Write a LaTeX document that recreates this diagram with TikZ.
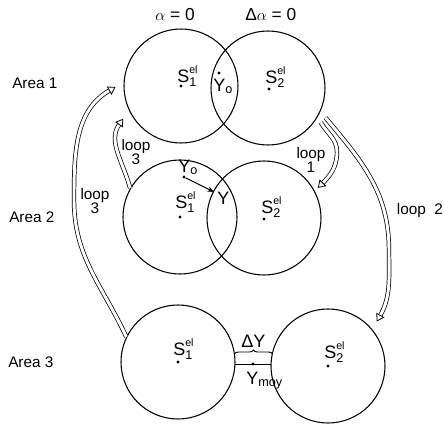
\documentclass[tikz,border=0pt]{standalone}
\usepackage{fontspec}
\setmainfont{Liberation Sans}
\usetikzlibrary{arrows.meta,decorations.pathreplacing}
\newcommand\supsz{\fontsize{8}{9}\selectfont}
\newcommand\subsz{\fontsize{9.5}{10}\selectfont}
\newcommand\Sel[1]{$\hbox{S}^{\hbox{\supsz el}}_{\hbox{\subsz #1}}$}
\newcommand\Ysub[1]{$\hbox{Y}_{\hbox{\subsz #1}}$}
\begin{document}
\begin{tikzpicture}[x=0.75pt,y=-0.75pt,
  ring/.style={draw, circle, line width=0.8pt, minimum size=85.5pt, inner sep=0pt},
  cdot/.style={circle, fill, inner sep=0pt, minimum size=2.4pt},
  lbl/.style={inner sep=0pt, font=\fontsize{13.5}{15}\selectfont, anchor=base west},
  txt/.style={inner sep=0pt, font=\fontsize{11.5}{13}\selectfont, anchor=base west},
  ltxt/.style={inner sep=0pt, font=\fontsize{11.5}{12.5}\selectfont, align=center},
  hollow/.style={double, double distance=2.2pt, line width=0.55pt, -{Triangle[open, length=5.5pt, width=7pt, line width=0.6pt]}}]
\useasboundingbox (0,0) rectangle (444,425);

% circles
\node[ring] (c11) at (181,86) {};
\node[ring] (c12) at (268,88) {};
\node[ring] (c21) at (180,217) {};
\node[ring] (c22) at (264,218) {};
\node[ring] (c31) at (178,362) {};
\node[ring] (c32) at (328,366) {};

% centre dots
\node[cdot] (d11) at (181,86) {};
\node[cdot] (d12) at (269,89) {};
\node[cdot] (d21) at (180,217) {};
\node[cdot] (d22) at (264,219) {};
\node[cdot] (d31) at (178,362) {};
\node[cdot] (d32) at (328,366) {};

% top labels
\node[txt, font=\fontsize{13}{15}\selectfont] (ta) at (155,20) {$\alpha$ = 0};
\node[txt, font=\fontsize{13}{15}\selectfont] (tb) at (245,20) {Δ$\alpha$ = 0};

% area labels
\node[txt] (a1) at (12,88) {Area 1};
\node[txt] (a2) at (9,222) {Area 2};
\node[txt] (a3) at (8,367) {Area 3};

% S labels
\node[lbl] (s11) at (177,82) {\Sel{1}};
\node[lbl] (s12) at (265,83) {\Sel{2}};
\node[lbl] (s21) at (175,208) {\Sel{1}};
\node[lbl] (s22) at (261,213) {\Sel{2}};
\node[lbl] (s31) at (173,355) {\Sel{1}};
\node[lbl] (s32) at (324,358) {\Sel{2}};

% row 1 Yo
\node[cdot] (y0a) at (219,73) {};
\node[lbl] (ly0a) at (213,91) {\Ysub{o}};

% row 2 Yo -> Y
\node[cdot] (y0b) at (184,177) {};
\node[lbl] (ly0b) at (178,172) {\Ysub{o}};
\coordinate (yb) at (214,192);
\node[lbl] (lyb) at (217,204) {Y};
\draw[line width=0.7pt, -{Stealth[length=5pt,width=4pt]}] (y0b) -- (yb);

% row 3 bridge
\coordinate (bl1) at (234.5,354);
\coordinate (br1) at (272.5,354);
\coordinate (bl2) at (235,364);
\coordinate (br2) at (271,364);
\draw[line width=0.7pt, decorate, decoration={brace, amplitude=3pt}] (bl1) -- (br1);
\draw[line width=0.7pt] (bl2) -- (br2);
\node[cdot] (ym) at (253,364) {};
\node[lbl] (ldy) at (241,347) {ΔY};
\node[lbl] (lym) at (246,384) {\Ysub{moy}};

% loops
\draw[hollow] (c21.150) to[out=105, in=235] ([shift={(-6pt,-3pt)}]c11.210);
\draw[hollow] (c31.154) to[out=115, in=-90] (74,200) to[out=90, in=210] ([shift={(-6pt,0pt)}]c11.181);
\draw[hollow] ([shift={(3pt,-3pt)}]c12.-32) to[out=-60, in=90] (337,152) to[out=-90, in=45] ([shift={(3pt,1pt)}]c22.30);
\draw[hollow] ([shift={(4pt,-4pt)}]c12.-25) to[out=-50, in=90] (389,250) to[out=-90, in=60] ([shift={(5pt,4pt)}]c32.43);

% loop labels
\node[ltxt] (l3a) at (136,152) {loop\\[-2pt]3};
\node[ltxt] (l3b) at (95,201) {loop\\[-2pt]3};
\node[ltxt] (l1) at (311,160) {loop\\[-2pt]1};
\node[ltxt] (l2) at (420,211) {loop~~2};
\end{tikzpicture}
\end{document}
